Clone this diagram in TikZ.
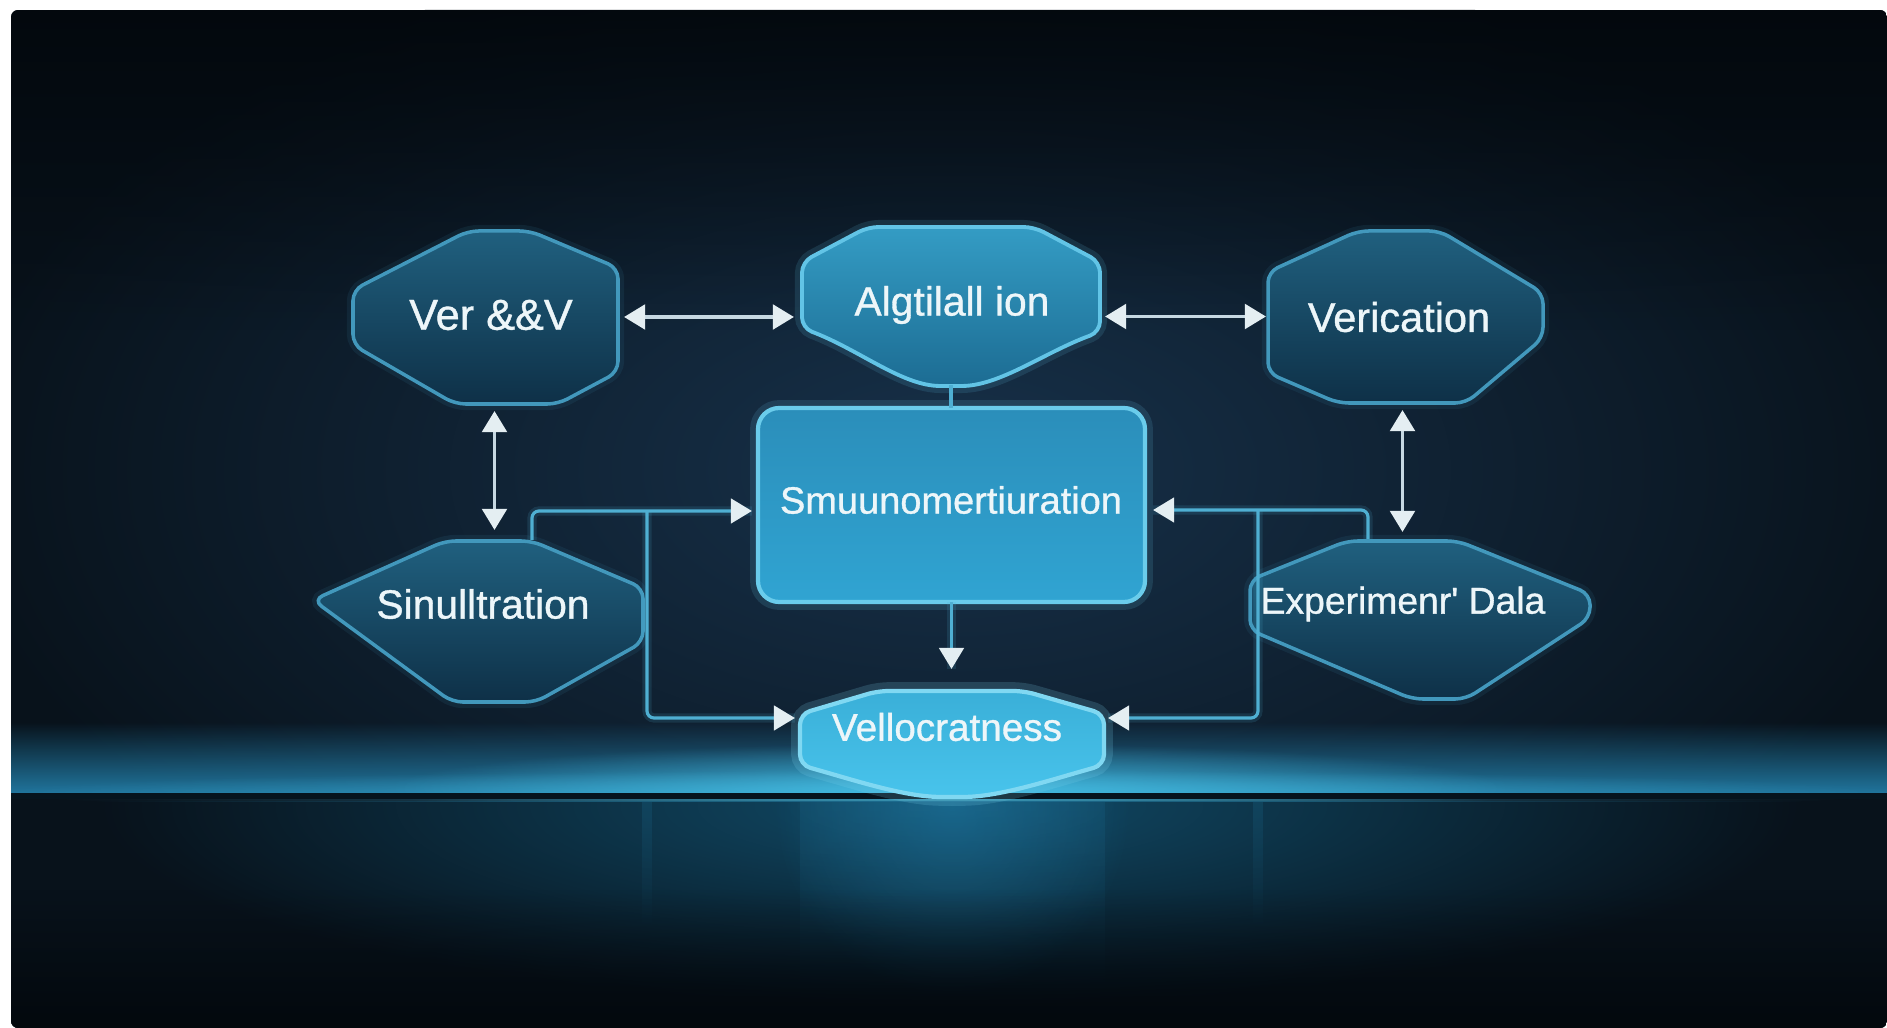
\documentclass[tikz,border=0pt]{standalone}
\usepackage{fontspec}
\setmainfont{Liberation Sans}
\newfontfamily\lblfont[FakeBold=0.9]{Liberation Sans}
\usetikzlibrary{arrows.meta,fadings,calc}

\definecolor{bgbase}{HTML}{08121B}
\definecolor{bgglow}{HTML}{17314A}
\definecolor{bgtop}{HTML}{02060A}
\definecolor{darktop}{HTML}{20607F}
\definecolor{darkmid}{HTML}{154A68}
\definecolor{darkbot}{HTML}{0E3047}
\definecolor{darkedge}{HTML}{4298BC}
\definecolor{algtop}{HTML}{349CC4}
\definecolor{algmid}{HTML}{2484AE}
\definecolor{algbot}{HTML}{1C6C93}
\definecolor{algedge}{HTML}{62C4E6}
\definecolor{ctrtop}{HTML}{2B8EBA}
\definecolor{ctrmid}{HTML}{1F7EAA}
\definecolor{ctrbot}{HTML}{30A4D2}
\definecolor{ctredge}{HTML}{6ACCEB}
\definecolor{veltop}{HTML}{3AAFD8}
\definecolor{velmid}{HTML}{2B9BC6}
\definecolor{velbot}{HTML}{48C4EC}
\definecolor{veledge}{HTML}{80D8F2}
\definecolor{linkc}{HTML}{4FAFD2}
\definecolor{dblc}{HTML}{C6D8E2}
\definecolor{tipc}{HTML}{E4EEF2}
\definecolor{txt}{HTML}{EDF6F9}
\definecolor{floorc}{HTML}{2790C0}
\definecolor{floorbright}{HTML}{4CCBF0}
\definecolor{refl}{HTML}{125575}
\definecolor{floorline}{HTML}{06141E}

\tikzfading[name=fadedown, top color=transparent!0, bottom color=transparent!100]
\tikzfading[name=fadeup, top color=transparent!100, bottom color=transparent!0]
\tikzfading[name=hmid, left color=transparent!100, middle color=transparent!0, right color=transparent!100]
\tikzfading[name=softglow, inner color=transparent!0, outer color=transparent!100]

\begin{document}
\begin{tikzpicture}[x=0.01cm, y=-0.01cm,
  box/.style={rectangle, draw=none, fill=none, inner sep=0pt, outer sep=0pt},
  lbl/.style={text=txt, inner sep=0pt},
  darkshape/.style={top color=darktop, middle color=darkmid, bottom color=darkbot,
    draw=darkedge, line width=1pt, rounded corners=3pt,
    preaction={draw=darkedge, line width=3.5pt, opacity=0.10, rounded corners=3pt}},
  algshape/.style={top color=algtop, middle color=algmid, bottom color=algbot,
    draw=algedge, line width=1.1pt, rounded corners=3pt,
    preaction={draw=algedge, line width=4pt, opacity=0.14, rounded corners=3pt}},
  ctrshape/.style={top color=ctrtop, middle color=ctrmid, bottom color=ctrbot,
    draw=ctredge, line width=1.2pt, rounded corners=6pt,
    preaction={draw=ctredge, line width=4.5pt, opacity=0.14, rounded corners=6pt}},
  velshape/.style={top color=veltop, middle color=velmid, bottom color=velbot,
    draw=veledge, line width=1.2pt, rounded corners=3pt,
    preaction={draw=veledge, line width=5pt, opacity=0.18, rounded corners=3pt}},
  dbl/.style={draw=dblc, line width=1pt,
    {Triangle[length=6pt,width=7pt,color=tipc]}-{Triangle[length=6pt,width=7pt,color=tipc]}},
  link/.style={draw=linkc, line width=0.9pt, -{Triangle[length=6pt,width=7pt,color=tipc]},
    preaction={draw=linkc, line width=2.6pt, opacity=0.15, -}},
  plainlink/.style={draw=linkc, line width=0.9pt}
]
\useasboundingbox (0,0) rectangle (1887,1028);
\fill[white] (0,0) rectangle (1887,1028);

% ---------- background ----------
\begin{scope}
\clip[rounded corners=2pt] (11,10) rectangle (1887,1028);
\fill[bgbase] (11,10) rectangle (1887,1028);
\shade[inner color=bgglow, outer color=bgbase] (950,470) ellipse [x radius=10cm, y radius=5.4cm];
\fill[bgtop, path fading=fadedown, opacity=0.8] (11,10) rectangle (1887,330);
% floor glow band
\fill[floorc, path fading=fadeup, opacity=0.8] (11,722) rectangle (1887,794);
\fill[floorbright, path fading=softglow, opacity=0.7] (950,788) ellipse [x radius=5.6cm, y radius=0.45cm];
\fill[floorbright, path fading=softglow, opacity=0.45] (950,792) ellipse [x radius=9.5cm, y radius=0.22cm];
% floor line
\draw[floorline, line width=1.6pt] (11,796) -- (1887,796);
\fill[floorc, path fading=hmid, opacity=0.6] (11,799) rectangle (1887,802);
% reflection
\begin{scope}
\clip (11,802) rectangle (1887,1028);
\fill[bgbase] (11,802) rectangle (1887,1028);
\fill[refl, path fading=softglow, opacity=0.85] (950,805) ellipse [x radius=8.5cm, y radius=2.0cm];
\fill[floorc, path fading=softglow, opacity=0.35] (952,805) ellipse [x radius=1.8cm, y radius=1.9cm];
\fill[floorc, path fading=fadedown, opacity=0.12] (800,802) rectangle (1105,990);
\fill[floorc, path fading=fadedown, opacity=0.15] (642,802) rectangle (652,930);
\fill[floorc, path fading=fadedown, opacity=0.15] (1253,802) rectangle (1263,930);
\fill[bgtop, path fading=fadeup, opacity=0.8] (11,890) rectangle (1887,1028);
\end{scope}
\end{scope}

% ---------- node frames (anchors) ----------
\node[box, minimum width=2.65cm, minimum height=1.74cm] (vv)  at (485.5,317) {};
\node[box, minimum width=2.98cm, minimum height=1.58cm] (alg) at (951,306) {};
\node[box, minimum width=2.75cm, minimum height=1.73cm] (ver) at (1405.5,316.5) {};
\node[box, minimum width=3.87cm, minimum height=1.94cm] (ctr) at (951.5,505) {};
\node[box, minimum width=3.30cm, minimum height=1.60cm] (sim) at (478,621) {};
\node[box, minimum width=3.40cm, minimum height=1.60cm] (exp) at (1420,620) {};
\node[box, minimum width=3.06cm, minimum height=1.06cm] (vel) at (952,744) {};

% ---------- shapes ----------
\path[darkshape] (353,290) -- (468,231) -- (530,231) -- (618,268) -- (618,372) -- (558,404) -- (455,404) -- (353,345) -- cycle;
\path[algshape] (802,262) -- (868,227) -- (1034,227) -- (1100,262) -- (1100,332)
   .. controls (1045,352) and (1000,386) .. (951,386)
   .. controls (902,386) and (860,350) .. (802,328) -- cycle;
\path[darkshape] (1268,272) -- (1358,231) -- (1440,231) -- (1543,293) -- (1543,338) -- (1466,403) -- (1338,403) -- (1268,373) -- cycle;
\path[ctrshape] (758,408) rectangle (1145,602);
\path[darkshape] (313,600) -- (445,541) -- (532,541) -- (643,588) -- (643,642) -- (536,702) -- (452,702) -- cycle;
\path[darkshape] (1250,580) -- (1347,541) -- (1458,541) -- (1590,594) -- (1590,618) -- (1466,699) -- (1412,699) -- (1250,630) -- cycle;
\path[velshape] (800,714) -- (878,691) -- (1024,691) -- (1104,714) -- (1104,765)
   .. controls (1050,780) and (1000,797) .. (952,797)
   .. controls (904,797) and (854,780) .. (800,765) -- cycle;

% ---------- labels ----------
\node[lbl, font=\lblfont\fontsize{12.3pt}{14pt}\selectfont] (vv-t) at (491,315) {Ver \&\&V};
\node[lbl, font=\lblfont\fontsize{11.6pt}{14pt}\selectfont] (alg-t) at (952,305) {Algtilall ion};
\node[lbl, font=\lblfont\fontsize{11.8pt}{14pt}\selectfont] (ver-t) at (1399,317) {Verication};
\node[lbl, font=\lblfont\fontsize{10.8pt}{13pt}\selectfont] (ctr-t) at (951,500) {Smuunomertiuration};
\node[lbl, font=\lblfont\fontsize{11.6pt}{14pt}\selectfont] (sim-t) at (483,604) {Sinulltration};
\node[lbl, font=\lblfont\fontsize{10.6pt}{13pt}\selectfont] (exp-t) at (1403,604) {Experimenr' Dala};
\node[lbl, font=\lblfont\fontsize{11pt}{13pt}\selectfont] (vel-t) at (947,727) {Vellocratness};

% ---------- connectors ----------
\coordinate (jl) at (647,511);
\coordinate (jr) at (1258,510);

\draw[dbl] ($(vv.east)+(6,0)$) -- ($(vv.east -| alg.west)+(-8,0)$);
\draw[dbl] ($(alg.east |- ver.west)+(5,0)$) -- ($(ver.west)+(-2,0)$);
\draw[dbl] ($(vv.south)+(9,7)$) -- ($(vv.south |- sim.north)+(9,-11)$);
\draw[dbl] ($(ver.south)+(-3,7)$) -- ($(ver.south |- exp.north)+(-3,-8)$);

\draw[plainlink] (alg.south) -- (alg.south |- ctr.north);
\draw[link] (ctr.south) -- ($(ctr.south |- vel.north)+(0,-22)$);

\draw[link, rounded corners=2pt] ($(sim.north)+(54,-1)$) |- ($(ctr.west)+(-6,6)$);
\draw[link, rounded corners=2pt] (jl) |- ($(vel.west)+(-4,-26)$);
\draw[link, rounded corners=2pt] ($(exp.north)+(-52,-1)$) |- ($(ctr.east)+(8,5)$);
\draw[link, rounded corners=2pt] (jr) |- ($(vel.east)+(3,-26)$);
\end{tikzpicture}
\end{document}
